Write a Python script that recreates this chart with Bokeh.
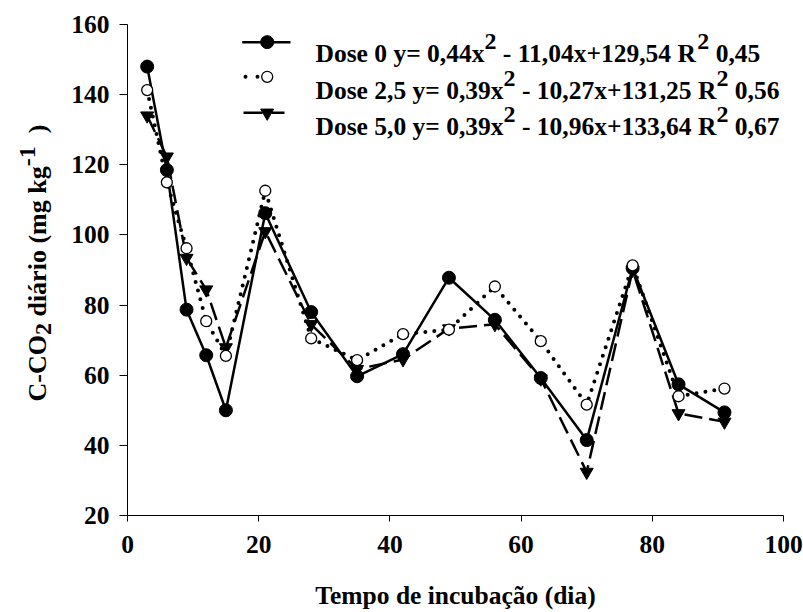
import math
from bokeh.plotting import figure
from bokeh.layouts import row
from bokeh.models import Range1d, FixedTicker, Label
from bokeh.embed import file_html
from bokeh.resources import INLINE

# ---------------- data ----------------
X_DAYS = [3, 6, 9, 12, 15, 21, 28, 35, 42, 49, 56, 63, 70, 77, 84, 91]
DOSE_0 = [148.0, 118.5, 78.7, 65.7, 50.0, 106.2, 78.0, 59.7, 66.0, 87.8, 75.8, 59.2, 41.5, 90.5, 57.4, 49.4]
DOSE_25 = [141.3, 115.0, 96.2, 75.4, 65.5, 112.6, 70.5, 64.3, 71.7, 73.0, 85.3, 69.7, 51.6, 91.3, 54.0, 56.2]
DOSE_50 = [134.0, 122.3, 93.4, 84.4, 67.9, 101.0, 74.5, 61.7, 64.5, 73.3, 74.5, 59.0, 32.4, 90.0, 49.1, 46.7]

X_TICKS = [0, 20, 40, 60, 80, 100]
Y_TICKS = [20, 40, 60, 80, 100, 120, 140, 160]
X_TITLE = "Tempo de incubação (dia)"

LEGEND_ROWS = [
    ["Dose 0 y= 0,44x", "2", " - 11,04x+129,54 R", "2", " 0,45"],
    ["Dose 2,5 y= 0,39x", "2", " - 10,27x+131,25 R", "2", " 0,56"],
    ["Dose 5,0 y= 0,39x", "2", " - 10,96x+133,64 R", "2", " 0,67"],
]
Y_TITLE = [("C-CO", "main"), ("2", "sub"), (" diário (mg kg", "main"), ("-1", "sup"), ("  )", "main")]

# ---------------- layout ----------------
W, H = 803, 612
SIDE_W = 60                      # narrow strip that carries the y-axis title
FX0, FX1, FY0, FY1 = 127, 783, 24, 517   # page pixels of the main frame
XMIN, XMAX, YMIN, YMAX = 0, 100, 20, 160
FONT = "Liberation Serif"
FS = 25.5
FS_SUP = 24.0
FS_YT = 26.0

def dx(px):
    return XMIN + (px - FX0) / (FX1 - FX0) * (XMAX - XMIN)

def dy(py):
    return YMAX - (py - FY0) / (FY1 - FY0) * (YMAX - YMIN)

# Times/Liberation Serif Bold advance widths (1/1000 em)
ADV = {' ': 250, ',': 250, '-': 333, '+': 570, '=': 570, '(': 333, ')': 333,
       'C': 722, 'D': 722, 'O': 778, 'R': 722, 'a': 500, 'á': 500, 'd': 556,
       'e': 444, 'g': 500, 'i': 278, 'k': 556, 'm': 833, 'o': 500, 'r': 444,
       's': 389, 'x': 500, 'y': 500}

def text_w(s, size):
    return sum(ADV.get(c, 500) for c in s) * size / 1000.0

def make_label(sx, sy, text, size, angle=0.0):
    # screen units: measured from the frame's left / bottom edge
    return Label(x=sx, y=sy, x_units="screen", y_units="screen",
                 text=text, angle=angle, text_font=FONT, text_font_style="bold",
                 text_font_size=f"{size}px", text_color="black",
                 text_align="left", text_baseline="alphabetic")

# ---------------- main figure ----------------
p = figure(width=W - SIDE_W, height=H, x_range=Range1d(XMIN, XMAX), y_range=Range1d(YMIN, YMAX),
           output_backend="svg", toolbar_location=None,
           min_border_left=FX0 - SIDE_W, min_border_right=W - FX1,
           min_border_top=FY0, min_border_bottom=H - FY1)
p.grid.visible = False
p.outline_line_color = None
p.background_fill_color = "white"
p.border_fill_color = "white"

for ax in (p.xaxis[0], p.yaxis[0]):
    ax.minor_tick_line_color = None
    ax.major_tick_in = 0
    ax.axis_line_color = "black"
    ax.axis_line_width = 1
    ax.major_tick_line_color = "black"
    ax.major_tick_line_width = 1
    ax.major_label_text_font = FONT
    ax.major_label_text_font_style = "bold"
    ax.major_label_text_font_size = f"{FS}px"
    ax.major_label_text_color = "black"

p.xaxis.ticker = FixedTicker(ticks=X_TICKS)
p.yaxis.ticker = FixedTicker(ticks=Y_TICKS)
p.xaxis.major_tick_out = 6
p.yaxis.major_tick_out = 8
p.xaxis.major_label_standoff = 14
p.yaxis.major_label_standoff = 10
p.xaxis.major_label_text_line_height = 1.0
p.xaxis.axis_label = X_TITLE
p.xaxis.axis_label_text_font = FONT
p.xaxis.axis_label_text_font_style = "bold"
p.xaxis.axis_label_text_font_size = f"{FS}px"
p.xaxis.axis_label_text_color = "black"
p.xaxis.axis_label_text_line_height = 1.0
p.xaxis.axis_label_standoff = 25

# ---------------- series ----------------
p.line(X_DAYS, DOSE_50, line_color="black", line_width=2.5, line_dash="18 7")
p.line(X_DAYS, DOSE_0, line_color="black", line_width=2.5)
p.line(X_DAYS, DOSE_25, line_color="black", line_width=4, line_dash="0 9", line_cap="round")
p.scatter(X_DAYS, DOSE_50, marker="inverted_triangle", size=13, fill_color="black", line_color="black")
p.scatter(X_DAYS, DOSE_0, marker="circle", size=13, fill_color="black", line_color="black")
p.scatter(X_DAYS, DOSE_25, marker="circle", size=11, fill_color="white", line_color="black", line_width=1.3)

# ---------------- legend ----------------
ROW_Y = [41.7, 76.5, 112.7]
BASE_Y = [55.0, 91.5, 128.0]
MX = 266.7
p.line([dx(241.7), dx(290)], [dy(ROW_Y[0])] * 2, line_color="black", line_width=2.5)
p.scatter([dx(MX)], [dy(ROW_Y[0])], marker="circle", size=13, fill_color="black", line_color="black")
p.line([dx(245), dx(281)], [dy(ROW_Y[1])] * 2, line_color="black", line_width=4, line_dash="0 12", line_cap="round")
p.scatter([dx(MX)], [dy(ROW_Y[1])], marker="circle", size=11, fill_color="white", line_color="black", line_width=1.3)
p.line([dx(243), dx(262)], [dy(ROW_Y[2])] * 2, line_color="black", line_width=2.5)
p.line([dx(271), dx(284)], [dy(ROW_Y[2])] * 2, line_color="black", line_width=2.5)
p.scatter([dx(MX)], [dy(ROW_Y[2])], marker="inverted_triangle", size=13, fill_color="black", line_color="black")

for cells, by in zip(LEGEND_ROWS, BASE_Y):
    xpos = 315.0
    for i, seg in enumerate(cells):
        sup = (i % 2 == 1)
        size = FS_SUP if sup else FS
        yy = by - 12 if sup else by
        lead = len(seg) - len(seg.lstrip(" "))
        xpos += text_w(" " * lead, size)
        body = seg.lstrip(" ")
        p.add_layout(make_label(xpos - FX0, FY1 - yy, body, size))
        xpos += text_w(body, size)

# ---------------- side strip with the rotated y-axis title ----------------
side = figure(width=SIDE_W, height=H, x_range=Range1d(0, SIDE_W), y_range=Range1d(0, H),
              output_backend="svg", toolbar_location=None, x_axis_type=None, y_axis_type=None,
              min_border_left=0, min_border_right=0, min_border_top=0, min_border_bottom=0)
side.grid.visible = False
side.outline_line_color = None
side.background_fill_color = "white"
side.border_fill_color = "white"

# the strip's frame is aligned with the main frame (top 24, bottom 517)
BASE_X = 37.0
ypos = 403.0
for seg, kind in Y_TITLE:
    size = FS_YT if kind == "main" else FS_SUP
    off = {"main": 0.0, "sub": 6.0, "sup": -10.0}[kind]
    lead = len(seg) - len(seg.lstrip(" "))
    ypos -= text_w(" " * lead, size)
    body = seg.lstrip(" ")
    side.add_layout(make_label(BASE_X + off, FY1 - ypos, body, size, angle=math.pi / 2))
    ypos -= text_w(body, size)

layout = row(side, p, spacing=0)
open("out.html", "w").write(file_html(layout, INLINE))
